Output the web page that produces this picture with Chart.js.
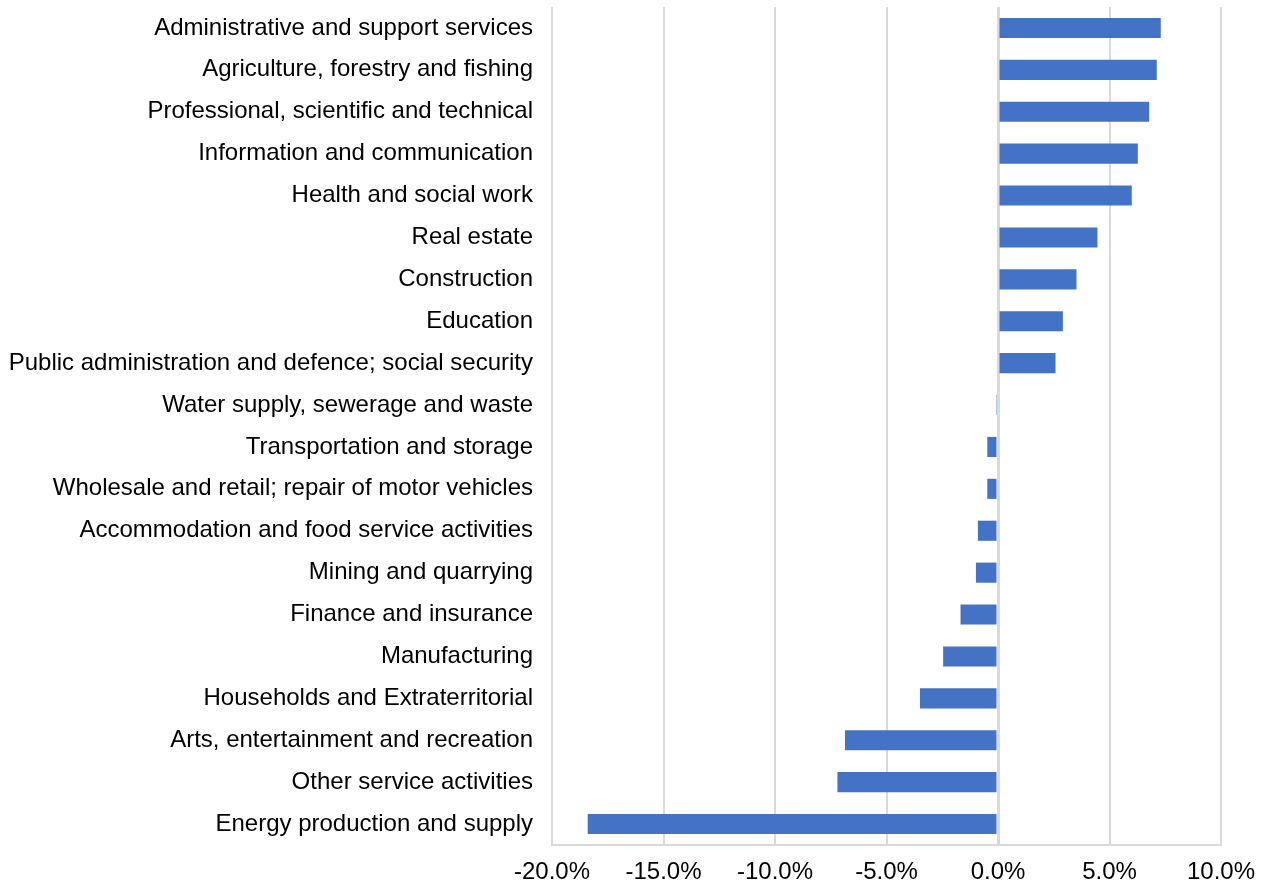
<!DOCTYPE html>
<html>
<head>
<meta charset="utf-8">
<script src="https://cdn.jsdelivr.net/npm/chart.js@4/dist/chart.umd.min.js"></script>
<style>
  html, body { margin: 0; padding: 0; background: #ffffff; }
  #wrap { width: 1264px; height: 883px; position: relative; }
</style>
</head>
<body>
<div id="wrap"><canvas id="c" width="1264" height="883"></canvas></div>
<script>
const categories = [
  "Administrative and support services",
  "Agriculture, forestry and fishing",
  "Professional, scientific and technical",
  "Information and communication",
  "Health and social work",
  "Real estate",
  "Construction",
  "Education",
  "Public administration and defence; social security",
  "Water supply, sewerage and waste",
  "Transportation and storage",
  "Wholesale and retail; repair of motor vehicles",
  "Accommodation and food service activities",
  "Mining and quarrying",
  "Finance and insurance",
  "Manufacturing",
  "Households and Extraterritorial",
  "Arts, entertainment and recreation",
  "Other service activities",
  "Energy production and supply"
];
const changePct = [
  7.3, 7.12, 6.78, 6.27, 6.0, 4.46, 3.52, 2.91, 2.58, -0.05,
  -0.48, -0.48, -0.9, -0.99, -1.68, -2.46, -3.5, -6.86, -7.2, -18.4
];
const xTicks = [-20, -15, -10, -5, 0, 5, 10];

const FONT = "'Liberation Sans', Arial, sans-serif";

new Chart(document.getElementById('c'), {
  type: 'bar',
  data: {
    labels: categories,
    datasets: [{
      data: changePct,
      backgroundColor: '#4472C4',
      borderWidth: 0,
      categoryPercentage: 1.0,
      barPercentage: 0.48
    }]
  },
  options: {
    indexAxis: 'y',
    responsive: false,
    animation: false,
    devicePixelRatio: 1,
    layout: { padding: { top: 7, right: 43, left: 0, bottom: 0 } },
    plugins: { legend: { display: false }, tooltip: { enabled: false } },
    scales: {
      x: {
        min: xTicks[0],
        max: xTicks[xTicks.length - 1],
        afterBuildTicks: (s) => { s.ticks = xTicks.map(v => ({ value: v })); },
        afterFit: (s) => { s.height = 38; s.paddingLeft = 0; s.paddingRight = 0; },
        grid: {
          drawTicks: false,
          color: '#d9d9d9',
          lineWidth: (ctx) => (ctx.tick && ctx.tick.value === 0 ? 3 : 2)
        },
        border: { display: true, color: '#d9d9d9', width: 2 },
        ticks: {
          padding: 13,
          color: '#000000',
          font: { family: FONT, size: 24 },
          maxRotation: 0,
          callback: (v) => Number(v).toFixed(1) + '%'
        }
      },
      y: {
        afterFit: (s) => { s.width = 552; s.paddingTop = 0; s.paddingBottom = 0; },
        grid: { display: false, drawTicks: false },
        border: { display: false },
        ticks: {
          padding: 19,
          color: '#000000',
          font: { family: FONT, size: 24 },
          autoSkip: false
        }
      }
    }
  }
});
</script>
</body>
</html>
